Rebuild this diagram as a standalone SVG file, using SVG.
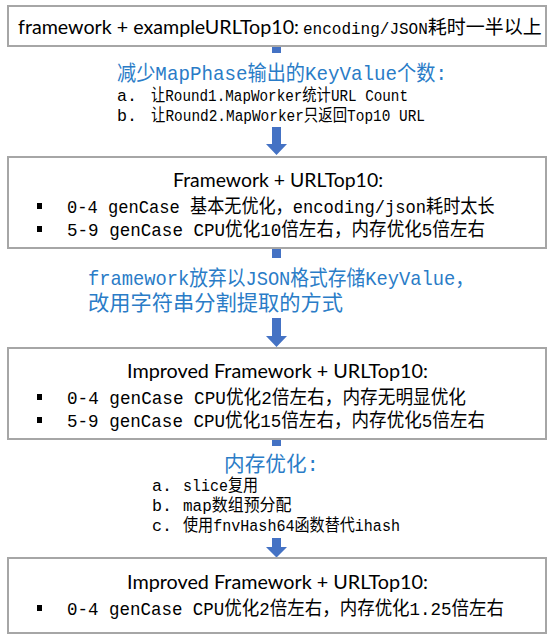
<svg xmlns="http://www.w3.org/2000/svg" width="554" height="636" viewBox="0 0 554 636">
<style>
.box{fill:#fff;stroke:#A6A6A6;stroke-width:2}
.sans{font-family:Lato,"Noto Sans",sans-serif;font-size:19.5px;fill:#000}
.mono{font-family:"Liberation Mono","Noto Sans CJK SC",monospace;font-size:19px;fill:#000}
.lat{font-size:16px}
.item{font-family:"Liberation Mono","Noto Sans CJK SC",monospace;font-size:16.7px;fill:#000}
.blue{font-family:"Liberation Mono","Noto Sans CJK SC",monospace;font-size:21px;fill:#2A7CC7}
.arrow{fill:#4472C4}
.bullet{fill:#000}
.bg{fill:#fff}
</style>
<rect x="0" y="0" width="554" height="636" fill="#fff"/>
<g id="connectors">
<path class="arrow" d="M272,46 H281 V144 H287 L276.5,155 L266,144 H272 Z"/>
<path class="arrow" d="M272,248 H281 V336 H287 L276.5,347 L266,336 H272 Z"/>
<path class="arrow" d="M272,439 H281 V547 H287 L276.5,557.5 L266,547 H272 Z"/>
</g>
<g id="node1">
<rect class="box" x="8" y="6" width="538" height="40"/>
<text class="sans" x="18" y="34" textLength="281" lengthAdjust="spacingAndGlyphs">framework + exampleURLTop10:</text>
<text class="mono" x="303" y="34"><tspan class="lat">encoding/JSON</tspan>耗时一半以上</text>
</g>
<g id="label1">
<rect class="bg" x="100" y="53" width="360" height="74"/>
<text class="blue" x="117" y="80" textLength="330" lengthAdjust="spacingAndGlyphs">减少MapPhase输出的KeyValue个数:</text>
<text class="item" x="117" y="101">a.</text>
<text class="item" x="151" y="101" textLength="257" lengthAdjust="spacingAndGlyphs">让Round1.MapWorker统计URL Count</text>
<text class="item" x="117" y="121">b.</text>
<text class="item" x="151" y="121" textLength="274" lengthAdjust="spacingAndGlyphs">让Round2.MapWorker只返回Top10 URL</text>
</g>
<g id="node2">
<rect class="box" x="8" y="157" width="538" height="91"/>
<text class="sans" x="173" y="187" textLength="210" lengthAdjust="spacingAndGlyphs">Framework + URLTop10:</text>
<rect class="bullet" x="37" y="203" width="5" height="6"/>
<text class="mono" x="67" y="213" textLength="427.5" lengthAdjust="spacingAndGlyphs">0-4 genCase 基本无优化，encoding/json耗时太长</text>
<rect class="bullet" x="37" y="226" width="5" height="6"/>
<text class="mono" x="67" y="236" textLength="418" lengthAdjust="spacingAndGlyphs">5-9 genCase CPU优化10倍左右，内存优化5倍左右</text>
</g>
<g id="label2">
<rect class="bg" x="80" y="258" width="400" height="60"/>
<text class="blue" x="88" y="285" textLength="386" lengthAdjust="spacingAndGlyphs">framework放弃以JSON格式存储KeyValue，</text>
<text class="blue" x="88" y="310" textLength="255" lengthAdjust="spacingAndGlyphs">改用字符串分割提取的方式</text>
</g>
<g id="node3">
<rect class="box" x="8" y="348" width="538" height="91"/>
<text class="sans" x="127" y="378" textLength="301" lengthAdjust="spacingAndGlyphs">Improved Framework + URLTop10:</text>
<rect class="bullet" x="37" y="394" width="5" height="6"/>
<text class="mono" x="67" y="404" textLength="399" lengthAdjust="spacingAndGlyphs">0-4 genCase CPU优化2倍左右，内存无明显优化</text>
<rect class="bullet" x="37" y="417" width="5" height="6"/>
<text class="mono" x="67" y="427" textLength="418" lengthAdjust="spacingAndGlyphs">5-9 genCase CPU优化15倍左右，内存优化5倍左右</text>
</g>
<g id="label3">
<rect class="bg" x="140" y="446" width="280" height="92"/>
<text class="blue" x="224" y="471" textLength="95" lengthAdjust="spacingAndGlyphs">内存优化:</text>
<text class="item" x="152" y="491">a.</text>
<text class="item" x="183" y="491" textLength="75" lengthAdjust="spacingAndGlyphs">slice复用</text>
<text class="item" x="152" y="511">b.</text>
<text class="item" x="183" y="511" textLength="108.5" lengthAdjust="spacingAndGlyphs">map数组预分配</text>
<text class="item" x="152" y="531">c.</text>
<text class="item" x="183" y="531" textLength="217" lengthAdjust="spacingAndGlyphs">使用fnvHash64函数替代ihash</text>
</g>
<g id="node4">
<rect class="box" x="8" y="558" width="538" height="75"/>
<text class="sans" x="127" y="589" textLength="301" lengthAdjust="spacingAndGlyphs">Improved Framework + URLTop10:</text>
<rect class="bullet" x="37" y="605" width="5" height="6"/>
<text class="mono" x="67" y="615" textLength="437" lengthAdjust="spacingAndGlyphs">0-4 genCase CPU优化2倍左右，内存优化1.25倍左右</text>
</g>
</svg>
